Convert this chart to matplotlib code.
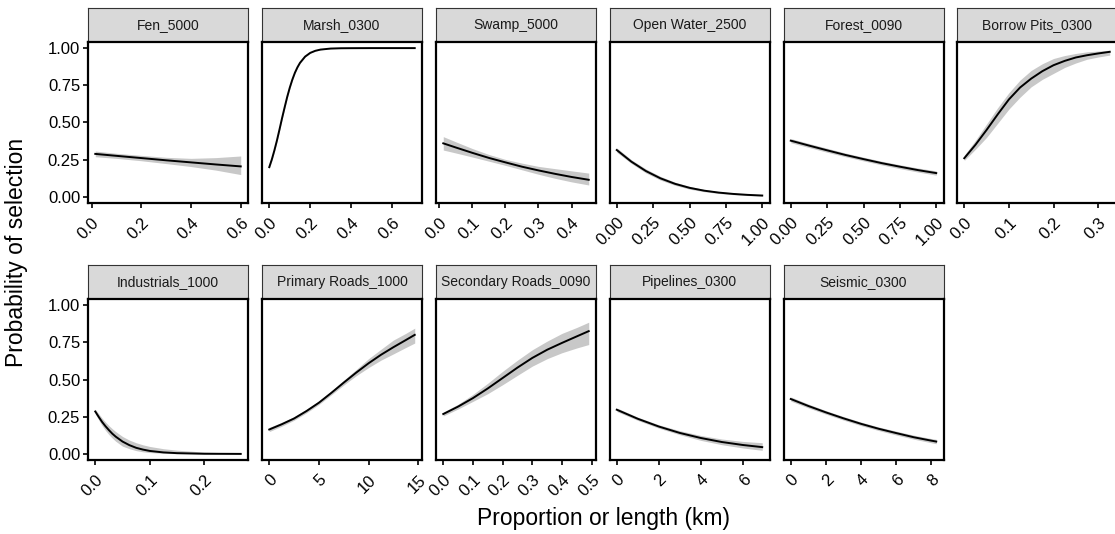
import numpy as np
import matplotlib
matplotlib.use("Agg")
import matplotlib.pyplot as plt

plt.rcParams['font.family'] = ['Liberation Sans', 'DejaVu Sans']

# predicted probability of selection (fit, lower, upper) for each covariate
fen_x = [0.015, 0.1, 0.2, 0.3, 0.4, 0.5, 0.6]
fen_fit = [0.289, 0.276, 0.261, 0.246, 0.232, 0.218, 0.205]
fen_lo = [0.270, 0.259, 0.243, 0.224, 0.204, 0.180, 0.150]
fen_hi = [0.308, 0.293, 0.279, 0.266, 0.259, 0.264, 0.275]

marsh_x = [0.0, 0.0125, 0.025, 0.0375, 0.05, 0.0625, 0.075, 0.0875, 0.1, 0.1125,
           0.125, 0.1375, 0.15, 0.175, 0.2, 0.225, 0.25, 0.3, 0.35, 0.4, 0.5, 0.6, 0.71]
marsh_fit = [0.200, 0.252, 0.313, 0.380, 0.454, 0.530, 0.602, 0.672, 0.734, 0.788,
             0.834, 0.871, 0.901, 0.943, 0.968, 0.982, 0.990, 0.997, 0.999, 0.9995,
             1.0, 1.0, 1.0]
marsh_lo = [0.190, 0.242, 0.302, 0.369, 0.443, 0.519, 0.592, 0.663, 0.726, 0.781,
            0.828, 0.866, 0.897, 0.940, 0.966, 0.980, 0.989, 0.996, 0.998, 0.999,
            0.9995, 0.9995, 0.9995]
marsh_hi = [0.210, 0.262, 0.324, 0.391, 0.465, 0.541, 0.612, 0.681, 0.742, 0.795,
            0.840, 0.876, 0.905, 0.946, 0.970, 0.984, 0.991, 0.998, 1.0, 1.0,
            1.0, 1.0, 1.0]

swamp_x = [0.012, 0.05, 0.1, 0.15, 0.2, 0.25, 0.3, 0.35, 0.4, 0.452]
swamp_fit = [0.360, 0.332, 0.296, 0.262, 0.232, 0.203, 0.178, 0.155, 0.134, 0.115]
swamp_lo = [0.315, 0.295, 0.268, 0.240, 0.212, 0.182, 0.152, 0.125, 0.101, 0.080]
swamp_hi = [0.405, 0.370, 0.325, 0.285, 0.252, 0.227, 0.205, 0.190, 0.175, 0.160]

water_x = [0.0, 0.1, 0.2, 0.3, 0.4, 0.5, 0.6, 0.7, 0.8, 0.9, 1.0]
water_fit = [0.315, 0.237, 0.174, 0.125, 0.088, 0.061, 0.042, 0.029, 0.020, 0.0136, 0.0092]
water_lo = [0.300, 0.225, 0.161, 0.113, 0.078, 0.052, 0.035, 0.023, 0.015, 0.009, 0.005]
water_hi = [0.330, 0.250, 0.188, 0.138, 0.099, 0.071, 0.050, 0.036, 0.026, 0.019, 0.014]

forest_x = [0.0, 0.125, 0.25, 0.375, 0.5, 0.625, 0.75, 0.875, 1.0]
forest_fit = [0.378, 0.345, 0.313, 0.282, 0.254, 0.227, 0.203, 0.180, 0.160]
forest_lo = [0.364, 0.332, 0.300, 0.270, 0.242, 0.215, 0.190, 0.167, 0.146]
forest_hi = [0.392, 0.359, 0.327, 0.295, 0.267, 0.240, 0.216, 0.194, 0.175]

borrow_x = [0.0, 0.025, 0.05, 0.075, 0.1, 0.125, 0.15, 0.175, 0.2, 0.225,
            0.25, 0.275, 0.3, 0.326]
borrow_fit = [0.260, 0.350, 0.450, 0.555, 0.655, 0.735, 0.795, 0.845, 0.885, 0.914,
              0.937, 0.952, 0.964, 0.975]
borrow_lo = [0.245, 0.320, 0.400, 0.495, 0.590, 0.670, 0.740, 0.790, 0.830, 0.870,
             0.900, 0.925, 0.940, 0.953]
borrow_hi = [0.280, 0.380, 0.490, 0.600, 0.700, 0.785, 0.850, 0.895, 0.930, 0.950,
             0.964, 0.975, 0.980, 0.986]

industry_x = [0.0, 0.00625, 0.0125, 0.01875, 0.025, 0.03125, 0.0375, 0.05, 0.0625,
              0.075, 0.0875, 0.1, 0.125, 0.15, 0.2, 0.267]
industry_fit = [0.285, 0.249, 0.215, 0.186, 0.160, 0.136, 0.116, 0.083, 0.059,
                0.041, 0.029, 0.020, 0.010, 0.005, 0.001, 0.0]
industry_lo = [0.270, 0.229, 0.190, 0.158, 0.130, 0.106, 0.085, 0.052, 0.035,
               0.022, 0.014, 0.009, 0.004, 0.001, 0.0, 0.0]
industry_hi = [0.300, 0.270, 0.240, 0.214, 0.190, 0.169, 0.150, 0.117, 0.093,
               0.075, 0.061, 0.050, 0.035, 0.025, 0.012, 0.005]

primary_x = [0.0, 1.25, 2.5, 3.75, 5.0, 6.25, 7.5, 8.75, 10.0, 11.25, 12.5, 13.75, 14.65]
primary_fit = [0.164, 0.199, 0.238, 0.288, 0.344, 0.410, 0.479, 0.546, 0.609,
               0.666, 0.717, 0.765, 0.800]
primary_lo = [0.150, 0.186, 0.226, 0.276, 0.332, 0.397, 0.463, 0.525, 0.580,
              0.630, 0.672, 0.715, 0.745]
primary_hi = [0.178, 0.212, 0.250, 0.300, 0.356, 0.423, 0.495, 0.567, 0.640,
              0.703, 0.765, 0.810, 0.845]

secondary_x = [0.0, 0.05, 0.1, 0.15, 0.2, 0.25, 0.3, 0.35, 0.4, 0.45, 0.49]
secondary_fit = [0.268, 0.318, 0.375, 0.440, 0.510, 0.580, 0.645, 0.700, 0.746, 0.790, 0.825]
secondary_lo = [0.255, 0.302, 0.353, 0.405, 0.465, 0.528, 0.590, 0.640, 0.680, 0.712, 0.735]
secondary_hi = [0.280, 0.334, 0.400, 0.475, 0.555, 0.630, 0.700, 0.758, 0.810, 0.850, 0.885]

pipeline_x = [0.0, 1.0, 2.0, 3.0, 4.0, 5.0, 6.0, 6.93]
pipeline_fit = [0.297, 0.236, 0.184, 0.141, 0.107, 0.080, 0.060, 0.0455]
pipeline_lo = [0.285, 0.225, 0.173, 0.129, 0.091, 0.062, 0.040, 0.024]
pipeline_hi = [0.309, 0.247, 0.196, 0.156, 0.124, 0.100, 0.084, 0.075]

seismic_x = [0.0, 1.0, 2.0, 3.0, 4.0, 5.0, 6.0, 7.0, 8.0, 8.28]
seismic_fit = [0.369, 0.322, 0.279, 0.239, 0.202, 0.169, 0.140, 0.112, 0.089, 0.083]
seismic_lo = [0.355, 0.309, 0.267, 0.227, 0.190, 0.157, 0.127, 0.099, 0.075, 0.068]
seismic_hi = [0.383, 0.335, 0.291, 0.251, 0.214, 0.181, 0.153, 0.126, 0.103, 0.098]

titles = ["Fen_5000", "Marsh_0300", "Swamp_5000", "Open Water_2500",
          "Forest_0090", "Borrow Pits_0300", "Industrials_1000",
          "Primary Roads_1000", "Secondary Roads_0090", "Pipelines_0300",
          "Seismic_0300"]

xticks = [[0, 0.2, 0.4, 0.6], [0, 0.2, 0.4, 0.6], [0, 0.1, 0.2, 0.3, 0.4],
          [0, 0.25, 0.5, 0.75, 1.0], [0, 0.25, 0.5, 0.75, 1.0], [0, 0.1, 0.2, 0.3],
          [0, 0.1, 0.2], [0, 5, 10, 15], [0, 0.1, 0.2, 0.3, 0.4, 0.5],
          [0, 2, 4, 6], [0, 2, 4, 6, 8]]
xticklabels = [["0.0", "0.2", "0.4", "0.6"], ["0.0", "0.2", "0.4", "0.6"],
               ["0.0", "0.1", "0.2", "0.3", "0.4"],
               ["0.00", "0.25", "0.50", "0.75", "1.00"],
               ["0.00", "0.25", "0.50", "0.75", "1.00"],
               ["0.0", "0.1", "0.2", "0.3"], ["0.0", "0.1", "0.2"],
               ["0", "5", "10", "15"], ["0.0", "0.1", "0.2", "0.3", "0.4", "0.5"],
               ["0", "2", "4", "6"], ["0", "2", "4", "6", "8"]]

yticks = [0, 0.25, 0.5, 0.75, 1.0]
yticklabels = ["0.00", "0.25", "0.50", "0.75", "1.00"]

series = [(fen_x, fen_fit, fen_lo, fen_hi),
          (marsh_x, marsh_fit, marsh_lo, marsh_hi),
          (swamp_x, swamp_fit, swamp_lo, swamp_hi),
          (water_x, water_fit, water_lo, water_hi),
          (forest_x, forest_fit, forest_lo, forest_hi),
          (borrow_x, borrow_fit, borrow_lo, borrow_hi),
          (industry_x, industry_fit, industry_lo, industry_hi),
          (primary_x, primary_fit, primary_lo, primary_hi),
          (secondary_x, secondary_fit, secondary_lo, secondary_hi),
          (pipeline_x, pipeline_fit, pipeline_lo, pipeline_hi),
          (seismic_x, seismic_fit, seismic_lo, seismic_hi)]

W, H = 1115, 534
fig = plt.figure(figsize=(W / 100, H / 100), dpi=100)

col_left = [88, 262, 436, 609.5, 783.5, 957]
panel_top = [42, 299]
panel_w, panel_h = 160, 161
strip_h = 34


def px_box(x, top, w, h):
    return [x / W, 1 - (top + h) / H, w / W, h / H]


for i, (x, fit, lo, hi) in enumerate(series):
    row, col = divmod(i, 6)
    left = col_left[col]
    top = panel_top[row]

    # facet strip
    sax = fig.add_axes(px_box(left, top - strip_h, panel_w, strip_h))
    sax.set_facecolor('#d9d9d9')
    sax.set_xticks([])
    sax.set_yticks([])
    for sp in sax.spines.values():
        sp.set_color('#333333')
        sp.set_linewidth(0.8)
    sax.text(0.5, 0.5, titles[i], ha='center', va='center', fontsize=10,
             color='#1a1a1a', transform=sax.transAxes)

    ax = fig.add_axes(px_box(left, top, panel_w, panel_h))
    ax.fill_between(x, lo, hi, color='#c8c8c8', lw=0)
    ax.plot(x, fit, color='black', lw=1.4)
    ax.margins(x=0.05)
    ax.set_ylim(-0.041, 1.041)
    ax.set_xticks(xticks[i])
    ax.set_xticklabels(xticklabels[i], rotation=45, ha='right',
                       rotation_mode='anchor')
    ax.set_yticks(yticks)
    ax.tick_params(labelsize=12, colors='black', width=1.2, length=3.6, pad=2)
    ax.tick_params(axis='x', pad=5)
    if col == 0:
        ax.set_yticklabels(yticklabels)
    else:
        ax.set_yticklabels([])
        ax.tick_params(axis='y', length=0)
    for sp in ax.spines.values():
        sp.set_color('black')
        sp.set_linewidth(1.6)

fig.text(17 / W, 1 - 252 / H, "Probability of selection", rotation=90,
         ha='center', va='center', fontsize=16.5)
fig.text(603 / W, 1 - 519 / H, "Proportion or length (km)",
         ha='center', va='center', fontsize=16.5)

fig.savefig("out.png", dpi=100)
